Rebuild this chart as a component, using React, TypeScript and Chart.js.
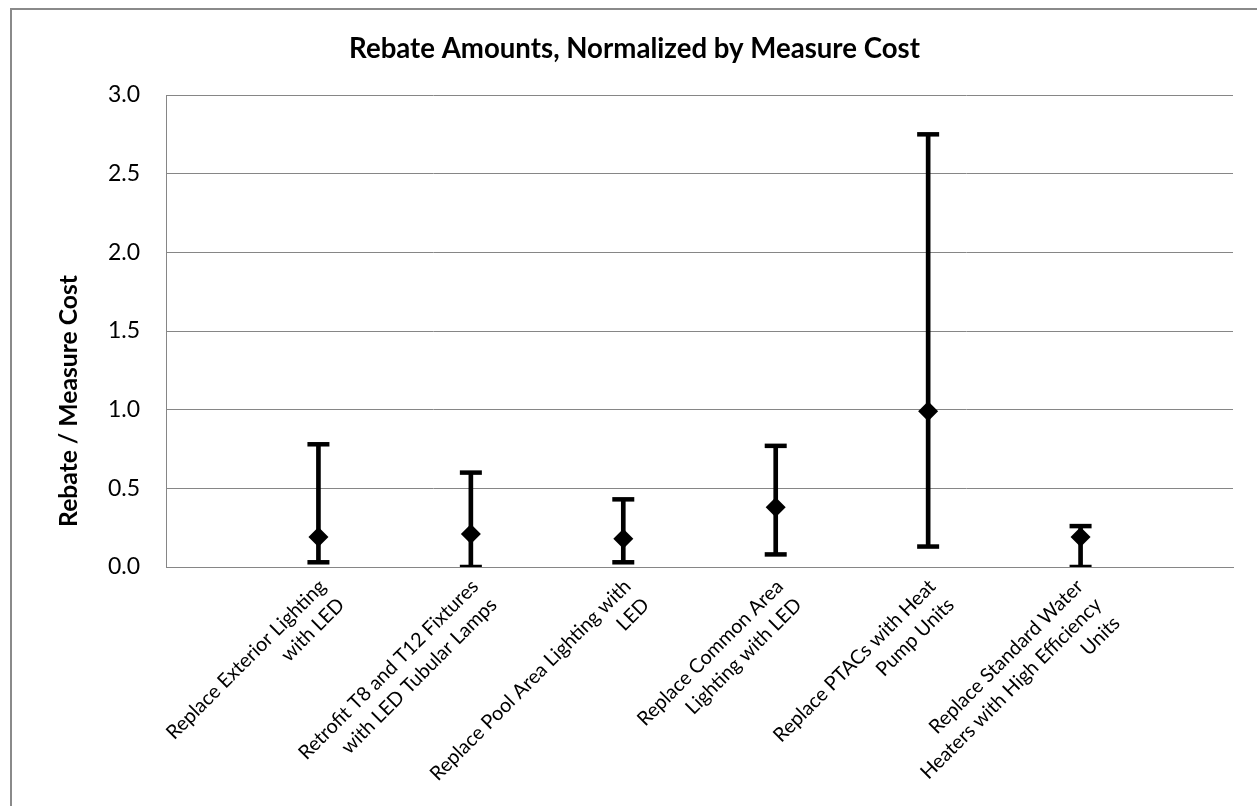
import React, { useEffect, useRef } from "react";
import { Chart, registerables } from "chart.js";

Chart.register(...registerables);

// ---- data ----
const categoryLines: string[][] = [
  ["Replace Exterior Lighting", "with LED"],
  ["Retrofit T8 and T12 Fixtures", "with LED Tubular Lamps"],
  ["Replace Pool Area Lighting with", "LED"],
  ["Replace Common Area", "Lighting with LED"],
  ["Replace PTACs with Heat", "Pump Units"],
  ["Replace Standard Water", "Heaters with High Efficiency", "Units"],
];
const meanValues: number[] = [0.19, 0.21, 0.18, 0.38, 0.99, 0.19];
const lowValues: number[] = [0.03, 0.0, 0.03, 0.08, 0.13, 0.0];
const highValues: number[] = [0.78, 0.6, 0.43, 0.77, 2.75, 0.26];
const yTickValues: number[] = [0, 0.5, 1.0, 1.5, 2.0, 2.5, 3.0];
const chartTitle = "Rebate Amounts, Normalized by Measure Cost";
const yAxisTitle = "Rebate / Measure Cost";

// ---- styles ----
const FONT = "Lato";
const W = 1257;
const H = 806;
const GRID = "#868686";

// size a font so that a reference string takes a given width
function fitSize(ctx: CanvasRenderingContext2D, text: string, weight: string, target: number) {
  ctx.font = `${weight} 100px ${FONT}`;
  const w = ctx.measureText(text).width || 1;
  return (100 * target) / w;
}

const textPlugin = {
  id: "textLayer",
  afterDraw(chart: any) {
    const { ctx, chartArea, scales } = chart;
    const xs = scales.x;
    ctx.save();
    ctx.fillStyle = "#000";
    // chart title
    const tSize = fitSize(ctx, chartTitle, "bold", 571);
    ctx.font = `bold ${tSize}px ${FONT}`;
    ctx.textAlign = "center";
    ctx.textBaseline = "middle";
    ctx.fillText(chartTitle, 634.5, 49);
    // y-axis title
    ctx.save();
    const ySize = fitSize(ctx, yAxisTitle, "bold", 252);
    ctx.font = `bold ${ySize}px ${FONT}`;
    ctx.textAlign = "center";
    ctx.textBaseline = "middle";
    ctx.translate(69, 401);
    ctx.rotate(-Math.PI / 2);
    ctx.fillText(yAxisTitle, 0, 0);
    ctx.restore();
    // category labels, rotated -45deg
    const s1 = fitSize(ctx, "Replace Exterior Lighting", "normal", 216);
    const s2 = fitSize(ctx, "Heaters with High Efficiency", "normal", 247);
    const lSize = (s1 + s2) / 2;
    const lineH = 26;
    ctx.font = `${lSize}px ${FONT}`;
    ctx.textAlign = "right";
    ctx.textBaseline = "middle";
    categoryLines.forEach((lines, i) => {
      const x = xs.getPixelForValue(i) - 5 * (lines.length - 1);
      const y = chartArea.bottom + 7;
      ctx.save();
      ctx.translate(x, y);
      ctx.rotate(-Math.PI / 4);
      lines.forEach((ln, j) => {
        ctx.fillText(ln, 0, lineH / 2 + j * lineH);
      });
      ctx.restore();
    });
    ctx.restore();
  },
};

export default function App() {
  const ref = useRef<HTMLCanvasElement>(null);

  useEffect(() => {
    let chart: Chart | null = null;
    let cancelled = false;

    const make = () => {
      if (cancelled || !ref.current) return;
      const markerData = meanValues.map((v, i) => ({ x: i, y: v }));
      const capData = [
        ...highValues.map((v, i) => ({ x: i, y: v })),
        ...lowValues.map((v, i) => ({ x: i, y: v })),
      ];
      const rangeData = lowValues.map((lo, i) => ({ x: i, y: [lo, highValues[i]] }));

      chart = new Chart(ref.current, {
        type: "scatter",
        data: {
          datasets: [
            {
              type: "scatter",
              label: "mean",
              data: markerData as any,
              pointStyle: "rectRot",
              pointRadius: 10,
              pointHoverRadius: 10,
              backgroundColor: "#000",
              borderColor: "#000",
              borderWidth: 0,
              order: 0,
            },
            {
              type: "scatter",
              label: "caps",
              data: capData as any,
              pointStyle: "line",
              pointRadius: 11,
              pointHoverRadius: 11,
              borderColor: "#000",
              backgroundColor: "#000",
              borderWidth: 4.5,
              order: 1,
            },
            {
              type: "bar",
              label: "range",
              data: rangeData as any,
              backgroundColor: "#000",
              borderWidth: 0,
              barThickness: 4,
              order: 2,
            } as any,
          ],
        },
        options: {
          responsive: false,
          animation: false,
          events: [],
          layout: {
            padding: { left: 0, top: 95, right: W - 1233, bottom: H - 567 },
          },
          plugins: {
            legend: { display: false },
            title: { display: false },
            tooltip: { enabled: false },
          },
          scales: {
            x: {
              type: "linear",
              offset: false,
              min: -1,
              max: 6,
              grid: { display: false, drawTicks: false, offset: false },
              border: { display: true, color: GRID, width: 1 },
              ticks: { display: false },
              afterFit: (s: any) => {
                s.height = 0;
              },
            },
            y: {
              type: "linear",
              min: 0,
              max: 3,
              afterBuildTicks: (s: any) => {
                s.ticks = yTickValues.map((v) => ({ value: v }));
              },
              afterFit: (s: any) => {
                s.width = 166;
              },
              grid: { color: GRID, lineWidth: 1, drawTicks: false },
              border: { display: true, color: GRID, width: 1 },
              ticks: {
                padding: 26,
                color: "#000",
                font: { family: FONT, size: 23 },
                callback: (v: any) => Number(v).toFixed(1),
              },
            },
          },
        },
        plugins: [textPlugin],
      } as any);
    };

    const fontsReady: Promise<any> = (document as any).fonts
      ? Promise.all([
          (document as any).fonts.load(`20px ${FONT}`),
          (document as any).fonts.load(`bold 27px ${FONT}`),
        ]).catch(() => undefined)
      : Promise.resolve();
    fontsReady.then(make);

    return () => {
      cancelled = true;
      if (chart) chart.destroy();
    };
  }, []);

  return (
    <div
      style={{
        position: "fixed",
        left: 0,
        top: 0,
        width: W,
        height: H,
        overflow: "hidden",
        background: "#fff",
      }}
    >
      <canvas
        ref={ref}
        width={W}
        height={H}
        style={{ position: "absolute", left: 0, top: 0, width: W, height: H, display: "block" }}
      />
      <div
        style={{
          position: "absolute",
          left: 10,
          top: 8,
          width: 1400,
          height: 1000,
          border: "2px solid #8a8a8a",
          boxSizing: "border-box",
          pointerEvents: "none",
        }}
      />
    </div>
  );
}
